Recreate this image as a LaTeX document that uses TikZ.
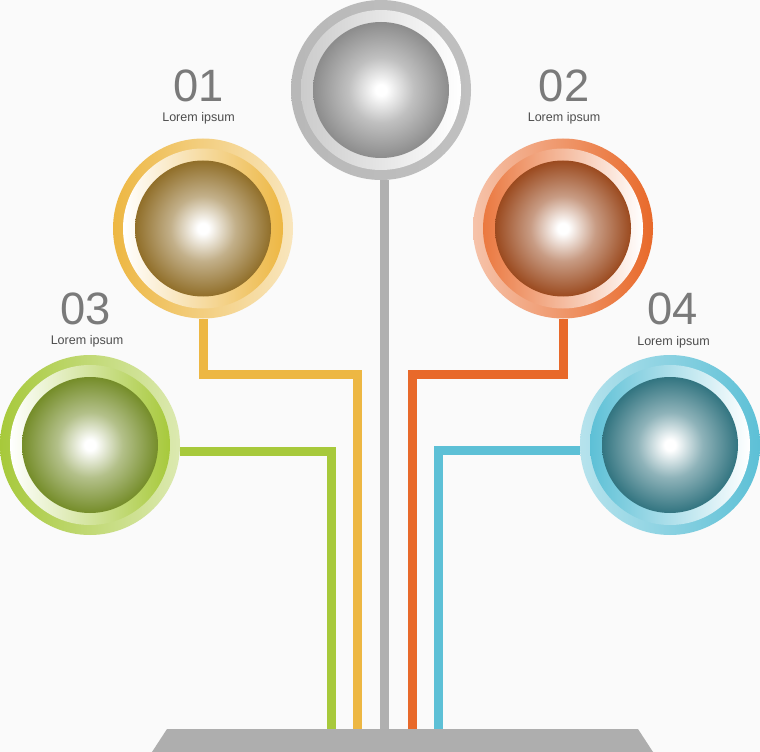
\documentclass[tikz,border=0pt]{standalone}
\usepackage{fontspec}
\setmainfont{Liberation Sans}

\definecolor{paper}{HTML}{FAFAFA}
\definecolor{numgray}{HTML}{7A7A7A}
\definecolor{capgray}{HTML}{4D4D4D}
\definecolor{basegray}{HTML}{AEAEAE}
\definecolor{stemgray}{HTML}{B0B0B0}
\definecolor{gold}{HTML}{EDB743}
\definecolor{rust}{HTML}{E8692A}
\definecolor{lime}{HTML}{A7C93B}
\definecolor{sky}{HTML}{5DC0D6}

\colorlet{ballcol}{gray}
\pgfdeclareradialshading[ballcol]{bubble}{\pgfpoint{0bp}{0bp}}{%
  color(0bp)=(white); color(2bp)=(white); color(12bp)=(ballcol!55!white);
  color(25bp)=(ballcol); color(50bp)=(ballcol)}

% #1 name, #2 centre, #3/#4 outer band, #5/#6 inner band, #7 ball
\newcommand{\bubble}[7]{%
  \node [bubblenode] (#1) at (#2) {};
  \shade [left color=#3, right color=#4] (#1.center) circle [radius=90];
  \shade [left color=#5, right color=#6] (#1.center) circle [radius=80];
  \colorlet{ballcol}{#7}%
  \shade [shading=bubble] (#1.center) circle [radius=68];
}

\begin{document}
\begin{tikzpicture}[
	x = 0.75pt,
	y = -0.75pt,
	bubblenode/.style = {circle, minimum size=135pt, inner sep=0pt},
	stem/.style       = {line width=6.75pt},
	numtext/.style    = {anchor=base, inner sep=0pt, text depth=0pt, text=numgray,
	                     font=\fontsize{34}{34}\selectfont},
	captext/.style    = {anchor=base, inner sep=0pt, text=capgray,
	                     font=\fontsize{9.4}{10}\selectfont}]
	\fill [paper] (0,0) rectangle (760,752);

	\bubble{top}{381,90}{stemgray!90}{stemgray!80}{stemgray!65}{white}{black!45}
	\bubble{one}{203,228.5}{gold}{gold!35!white}{white}{gold}{gold!60!black!95!brown}
	\bubble{two}{563,228.5}{rust!40!white}{rust}{rust!90}{white}{rust!65!black!90!brown}
	\bubble{three}{90,445}{lime}{lime!40!white}{white}{lime}{lime!70!black}
	\bubble{four}{670,445}{sky!45!white}{sky}{sky}{white}{sky!60!black!90!teal}

	\coordinate (base) at (384.5,729);
	\coordinate (k1) at (357.5,374.5);
	\coordinate (k2) at (412,374.5);
	\coordinate (k3) at (331.5,451.5);
	\coordinate (k4) at (438.5,450.5);

	\draw [stem, stemgray] (top.south -| base) -- (base);
	\draw [stem, gold] (one.south) |- (k1) -- (k1 |- base);
	\draw [stem, rust] (two.south) |- (k2) -- (k2 |- base);
	\draw [stem, lime] (three.east |- k3) -- (k3) -- (k3 |- base);
	\draw [stem, sky] (four.west |- k4) -- (k4) -- (k4 |- base);

	\fill [basegray] (167,729) -- (638,729) -- (653,752) -- (152,752) -- cycle;

	\node [numtext] (n1) at (199,102) {01};
	\node [captext] (c1) at (198.5,122) {Lorem ipsum};
	\node [numtext] (n2) at (564,102) {02};
	\node [captext] (c2) at (564,122) {Lorem ipsum};
	\node [numtext] (n3) at (86,324) {03};
	\node [captext] (c3) at (87,344) {Lorem ipsum};
	\node [numtext] (n4) at (672.5,325) {04};
	\node [captext] (c4) at (673.5,345) {Lorem ipsum};
\end{tikzpicture}
\end{document}
